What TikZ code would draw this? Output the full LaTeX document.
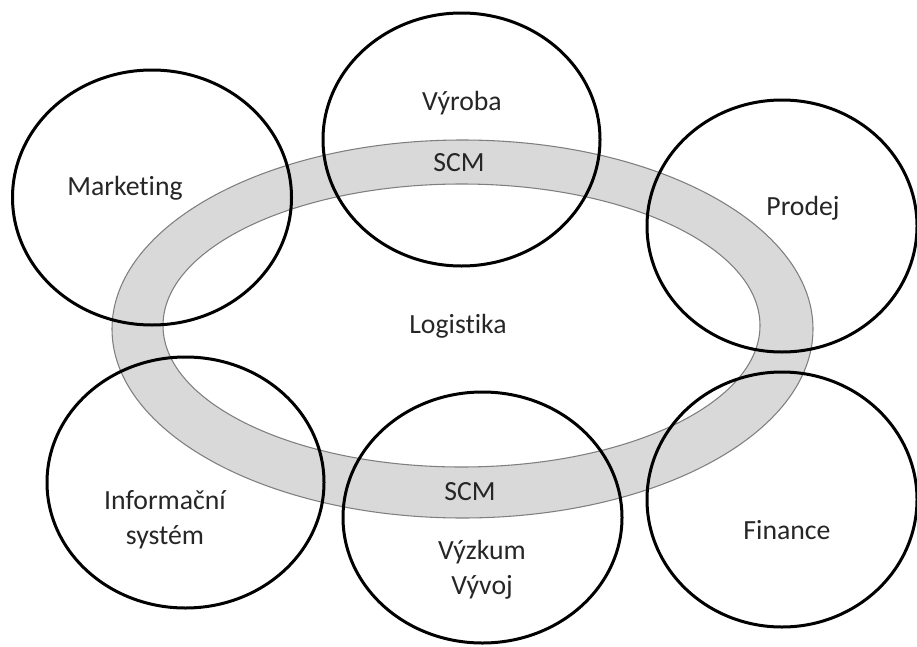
\documentclass[tikz,border=0pt]{standalone}
\usepackage{fontspec}
\setmainfont[Ligatures=NoCommon]{Carlito}
\definecolor{ringfill}{HTML}{D9D9D9}
\definecolor{ringline}{HTML}{7F7F7F}
\definecolor{txt}{HTML}{262626}
\begin{document}
\begin{tikzpicture}[x=0.75pt,y=-0.75pt,
  dept/.style={draw=black,line width=2.25pt},
  lbl/.style={text=txt,font=\fontsize{20.8}{26}\selectfont,align=center,inner sep=0pt}]
\useasboundingbox (0,0) rectangle (917,646);
% SCM ring
\path[draw=ringline,line width=0.8pt,fill=ringfill,even odd rule]
  (462.5,329) ellipse [x radius=350.5,y radius=189]
  (461.5,325.5) ellipse [x radius=298.5,y radius=141.5];
% departments
\draw[dept] (152,197.5) ellipse [x radius=139.5,y radius=127.5];
\draw[dept] (461.5,139.5) ellipse [x radius=138.5,y radius=126.5];
\draw[dept] (782,226) ellipse [x radius=135,y radius=126];
\draw[dept] (185.5,482.5) ellipse [x radius=138.5,y radius=125.5];
\draw[dept] (482.5,517.5) ellipse [x radius=139.5,y radius=125.5];
\draw[dept] (782,499.5) ellipse [x radius=135,y radius=127.5];
% labels
\node[lbl] (vyroba) at (462,103) {Výroba};
\node[lbl] (scmtop) at (459,163) {SCM};
\node[lbl] (marketing) at (125,188) {Marketing};
\node[lbl] (prodej) at (803,208) {Prodej};
\node[lbl] (logistika) at (458,326) {Logistika};
\node[lbl] (infsys) at (165,520) {Informační\\systém};
\node[lbl] (scmbot) at (470,492) {SCM};
\node[lbl] (vyzkum) at (482,570) {Výzkum\\Vývoj};
\node[lbl] (finance) at (787,530) {Finance};
\end{tikzpicture}
\end{document}
